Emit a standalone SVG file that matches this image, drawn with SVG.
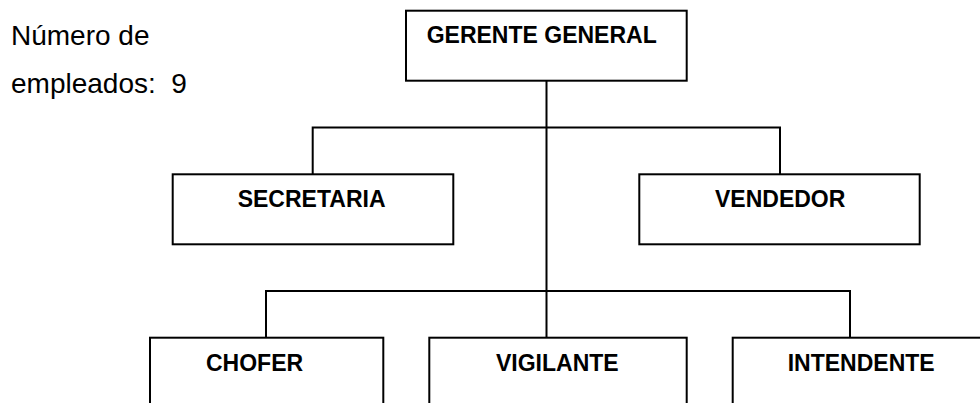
<svg xmlns="http://www.w3.org/2000/svg" width="980" height="403" viewBox="0 0 980 403">
<style>
.box{fill:#fff;stroke:#000;stroke-width:2}
.lbl{font-family:"Liberation Sans",Arial,sans-serif;font-weight:bold;font-size:23px;fill:#000}
.note{font-family:"Liberation Sans",Arial,sans-serif;font-size:28px;fill:#000}
.conn{fill:none;stroke:#000;stroke-width:2}
</style>
<rect width="980" height="403" fill="#fff"/>
<g id="note">
<text class="note" x="11" y="45">Número de</text>
<text class="note" x="11" y="93" xml:space="preserve">empleados:  9</text>
</g>
<g id="connectors">
<path class="conn" d="M546.5 80.7 V337.7"/>
<path class="conn" d="M312.7 174.3 V127.5 H780 V174.3"/>
<path class="conn" d="M266 337.7 V291 H850 V337.7"/>
</g>
<g id="gerente">
<rect class="box" x="406" y="10.7" width="280.7" height="70"/>
<text class="lbl" x="426.7" y="43.3">GERENTE GENERAL</text>
</g>
<g id="secretaria">
<rect class="box" x="172.7" y="174.3" width="280.6" height="70"/>
<text class="lbl" x="237.7" y="207.3">SECRETARIA</text>
</g>
<g id="vendedor">
<rect class="box" x="639.3" y="174.3" width="280.4" height="70"/>
<text class="lbl" x="715" y="207.3">VENDEDOR</text>
</g>
<g id="chofer">
<rect class="box" x="150" y="337.7" width="233.3" height="80"/>
<text class="lbl" x="206" y="370.7">CHOFER</text>
</g>
<g id="vigilante">
<rect class="box" x="429.3" y="337.7" width="257.4" height="80"/>
<text class="lbl" x="496" y="370.7">VIGILANTE</text>
</g>
<g id="intendente">
<rect class="box" x="732.7" y="337.7" width="260" height="80"/>
<text class="lbl" x="787.7" y="370.7">INTENDENTE</text>
</g>
</svg>
